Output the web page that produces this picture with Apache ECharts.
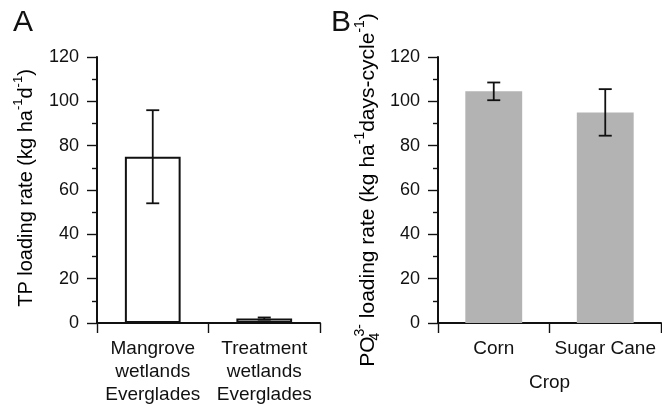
<!DOCTYPE html>
<html>
<head>
<meta charset="utf-8">
<script src="https://cdn.jsdelivr.net/npm/echarts@6/dist/echarts.min.js"></script>
<style>
  html, body { margin: 0; padding: 0; background: #fff; }
  #chart { width: 662px; height: 406px; }
</style>
</head>
<body>
<div id="chart"></div>
<script>
// Panel A: total phosphorus loading
const wetlandCategories = ['Mangrove\nwetlands\nEverglades', 'Treatment\nwetlands\nEverglades'];
const tpLoading = [75, 2];
const tpError = [21, 0.5];

// Panel B: phosphate loading per crop
const cropCategories = ['Corn', 'Sugar Cane'];
const po4Loading = [104.5, 95];
const po4Error = [4, 10.5];

// Shared y-axis range
const yMin = 0;
const yMax = 120;
const yStep = 20;

const FONT = '"Liberation Sans", Arial, Helvetica, sans-serif';
const INK = '#111111';

const chart = echarts.init(document.getElementById('chart'), null, { renderer: 'canvas' });

function errorData(values, errs) {
  return values.map((v, i) => [i, v - errs[i], v + errs[i]]);
}

function renderErrorBar(params, api) {
  const lo = api.coord([api.value(0), api.value(1)]);
  const hi = api.coord([api.value(0), api.value(2)]);
  const half = 6.5;
  const style = { stroke: INK, lineWidth: 1.8 };
  return {
    type: 'group',
    children: [
      { type: 'line', shape: { x1: lo[0], y1: lo[1], x2: hi[0], y2: hi[1] }, style },
      { type: 'line', shape: { x1: hi[0] - half, y1: hi[1], x2: hi[0] + half, y2: hi[1] }, style },
      { type: 'line', shape: { x1: lo[0] - half, y1: lo[1], x2: lo[0] + half, y2: lo[1] }, style }
    ]
  };
}

function valueAxis(gridIndex) {
  return {
    type: 'value',
    gridIndex,
    min: yMin,
    max: yMax,
    interval: yStep,
    axisLine: { show: true, lineStyle: { color: INK, width: 2 } },
    axisTick: { show: true, inside: false, length: 10, lineStyle: { color: INK, width: 1.4 } },
    minorTick: { show: true, splitNumber: 2, length: 5, lineStyle: { color: INK, width: 1.4 } },
    splitLine: { show: false },
    axisLabel: { fontFamily: FONT, fontSize: 18, color: INK, margin: 18 }
  };
}

function categoryAxis(gridIndex, data, extra) {
  return Object.assign({
    type: 'category',
    gridIndex,
    data,
    boundaryGap: true,
    axisLine: { show: true, lineStyle: { color: INK, width: 2 } },
    axisTick: { show: true, length: 10, alignWithLabel: false, lineStyle: { color: INK, width: 1.4 } },
    axisLabel: { fontFamily: FONT, fontSize: 19, color: INK, margin: 14, lineHeight: 23, interval: 0 },
    splitLine: { show: false }
  }, extra || {});
}

function titleRich(size) {
  const small = Math.round(size * 0.65);
  return {
    base: { fontFamily: FONT, fontSize: size, color: INK, lineHeight: size + 8, verticalAlign: 'middle' },
    sup: { fontFamily: FONT, fontSize: small, color: INK, lineHeight: small + 1, verticalAlign: 'top' },
    sub: { fontFamily: FONT, fontSize: small, color: INK, lineHeight: small + 1, verticalAlign: 'bottom', width: 0 }
  };
}

const option = {
  backgroundColor: '#ffffff',
  animation: false,
  grid: [
    { left: 97, top: 57, width: 223, height: 266 },
    { left: 438, top: 57, width: 223, height: 266 }
  ],
  xAxis: [
    categoryAxis(0, wetlandCategories),
    categoryAxis(1, cropCategories, {
      name: 'Crop',
      nameLocation: 'middle',
      nameGap: 50,
      nameTextStyle: { fontFamily: FONT, fontSize: 19, color: INK, lineHeight: 19 }
    })
  ],
  yAxis: [valueAxis(0), valueAxis(1)],
  graphic: [
    { type: 'text', left: 13, top: 8, style: { text: 'A', font: '30px ' + FONT, fill: INK } },
    { type: 'text', left: 331, top: 8, style: { text: 'B', font: '30px ' + FONT, fill: INK } },
    {
      type: 'text', x: 26, y: 188, rotation: Math.PI / 2,
      style: {
        text: '{base|TP loading rate (kg ha}{sup|-1}{base|d}{sup|-1}{base|)}',
        rich: titleRich(20), align: 'center', verticalAlign: 'middle'
      }
    },
    {
      type: 'text', x: 368, y: 190, rotation: Math.PI / 2,
      style: {
        text: '{base|PO}{sub|4}{sup|3-}{base| loading rate (kg ha}{sup|-1}{base|days-cycle}{sup|-1}{base|)}',
        rich: titleRich(21), align: 'center', verticalAlign: 'middle'
      }
    }
  ],
  series: [
    {
      type: 'bar',
      xAxisIndex: 0, yAxisIndex: 0,
      data: tpLoading,
      barWidth: '50%',
      itemStyle: { color: '#ffffff', borderColor: INK, borderWidth: 2 }
    },
    {
      type: 'custom',
      xAxisIndex: 0, yAxisIndex: 0,
      data: errorData(tpLoading, tpError),
      renderItem: renderErrorBar,
      z: 10
    },
    {
      type: 'bar',
      xAxisIndex: 1, yAxisIndex: 1,
      data: po4Loading,
      barWidth: '51%',
      itemStyle: { color: '#b3b3b3' }
    },
    {
      type: 'custom',
      xAxisIndex: 1, yAxisIndex: 1,
      data: errorData(po4Loading, po4Error),
      renderItem: renderErrorBar,
      z: 10
    }
  ]
};

chart.setOption(option);
</script>
</body>
</html>
